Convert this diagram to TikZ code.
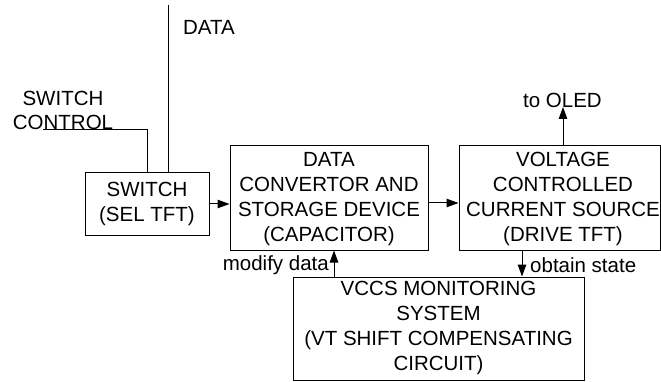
\documentclass[tikz,border=0pt]{standalone}
\usepackage{fontspec}
\setmainfont{Liberation Sans}
\usetikzlibrary{arrows.meta}
\begin{document}
\begin{tikzpicture}[x=1pt,y=-1pt,
  font=\fontsize{20.5}{25}\selectfont,
  blockbox/.style={draw=black, line width=1pt, inner sep=0pt},
  txt/.style={inner sep=0pt, align=center},
  wire/.style={draw=black, line width=1pt},
  arrowline/.style={wire, -{Triangle[length=12pt,width=8.5pt]}}]
  \useasboundingbox (0,0) rectangle (661,382);

  % blocks
  \node[blockbox, minimum width=124, minimum height=62] (sw) at (147,204) {};
  \node[txt] (swt) at (147,204) {SWITCH\\(SEL TFT)};

  \node[blockbox, minimum width=198, minimum height=104] (dc) at (329,198) {};
  \node[txt] (dct) at (329,199) {DATA\\CONVERTOR AND\\STORAGE DEVICE\\(CAPACITOR)};

  \node[blockbox, minimum width=201, minimum height=104] (vc) at (559.5,198) {};
  \node[txt] (vct) at (563,199) {VOLTAGE\\CONTROLLED\\CURRENT SOURCE\\(DRIVE TFT)};

  \node[blockbox, minimum width=291, minimum height=103] (mon) at (438.5,328.5) {};
  \node[txt] (mont) at (438.5,328) {VCCS MONITORING\\SYSTEM\\(VT SHIFT COMPENSATING\\CIRCUIT)};

  % free ends of the input lines
  \coordinate (dtop) at (168,5);
  \coordinate (scl) at (43,130);
  \coordinate (oled) at (563,107);

  % labels
  \node[txt] (datal) at (209,27) {DATA};
  \node[txt, font=\fontsize{20.5}{24}\selectfont] (scl_t) at (63,110) {SWITCH\\CONTROL};
  \node[txt] (oledl) at (562.5,100) {to OLED};
  \node[txt, anchor=east] (modl) at (329,265) {modify data};
  \node[txt, anchor=west] (obtl) at (530,265) {obtain state};

  % connectors
  \draw[wire] (dtop) -- (dtop |- sw.north);
  \draw[wire] (scl) -| (sw.north -| 147,0);
  \draw[arrowline] (sw.east) -- (dc.west |- sw.east);
  \draw[arrowline] (dc.east |- 0,203) -- (vc.west |- 0,203);
  \draw[arrowline] (vc.north -| oled) -- (oled);
  \draw[arrowline] (vc.south -| 522,0) -- (mon.north -| 522,0);
  \draw[arrowline] (mon.north -| 334,0) -- (dc.south -| 334,0);
\end{tikzpicture}
\end{document}
